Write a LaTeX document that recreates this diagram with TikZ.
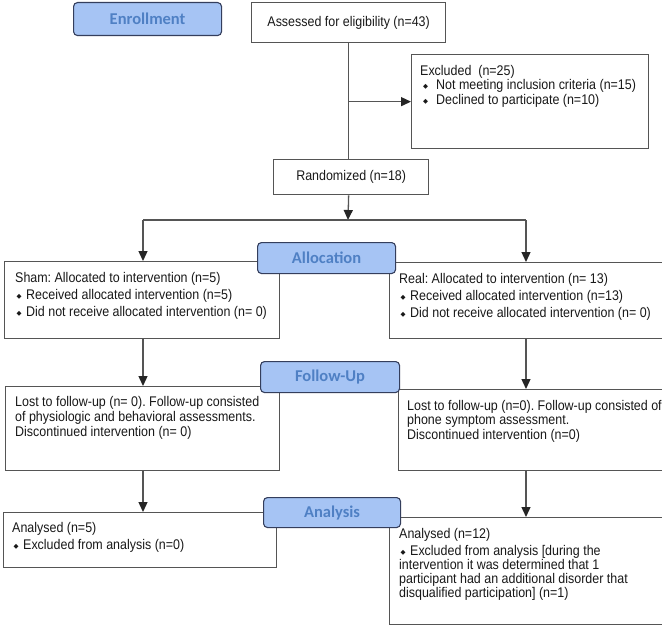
\documentclass[tikz,border=0pt]{standalone}
\usepackage{fontspec}
\setmainfont[FakeStretch=0.89]{Liberation Sans}
\newfontfamily\headf{Carlito}
\newfontfamily\symf{DejaVu Sans}
\usetikzlibrary{arrows.meta,calc}
\definecolor{hfill}{RGB}{166,196,244}
\definecolor{hdraw}{RGB}{52,62,92}
\definecolor{htext}{RGB}{79,128,196}
\definecolor{lgray}{RGB}{85,85,85}
\definecolor{tblack}{RGB}{25,25,25}
\newcommand\dmd{\raisebox{1pt}{\symf\fontsize{6.5}{6.5}\selectfont ◆}}
\newcommand\bA{\hspace*{1.5pt}\makebox[9.5pt][l]{\dmd}}
\newcommand\bB{\hspace*{3pt}\makebox[13pt][l]{\dmd}}
\begin{document}
\frenchspacing
\begin{tikzpicture}[x=1pt,y=-1pt,
 box/.style={draw=lgray,line width=1.3pt,fill=white,anchor=north west,inner sep=0pt,text=tblack,font=\frenchspacing\fontsize{14}{17}\selectfont},
 head/.style={draw=hdraw,line width=1.1pt,fill=hfill,rounded corners=4pt,anchor=north west,inner sep=0pt,text=htext,font=\headf\bfseries\fontsize{16.5}{18}\selectfont},
 txt/.style={anchor=north west,inner sep=0pt,align=left,text=tblack,font=\frenchspacing\fontsize{14}{17}\selectfont},
 arr/.style={draw=lgray,line width=1.3pt,-{Triangle[width=9pt,length=10pt,color=black!85]}},
 con/.style={draw=lgray,line width=1.3pt}]
\clip (0,0) rectangle (662,626);
\fill[white] (0,0) rectangle (662,626);
% boxes
\node[box,minimum width=194pt,minimum height=40pt] (assess) at (251,2) {Assessed for eligibility (n=43)};
\node[box,minimum width=237pt,minimum height=94pt] (excl) at (411,54) {};
\node[box,minimum width=155pt,minimum height=35pt] (rand) at (273,159) {Randomized (n=18)};
\node[box,minimum width=275pt,minimum height=77pt] (sham) at (4,261) {};
\node[box,minimum width=290pt,minimum height=76pt] (real) at (389,262) {};
\node[box,minimum width=274pt,minimum height=84pt] (fupL) at (5,386) {};
\node[box,minimum width=280pt,minimum height=81pt] (fupR) at (398,389) {};
\node[box,minimum width=273pt,minimum height=55pt] (anL) at (3,512) {};
\node[box,minimum width=290pt,minimum height=107pt] (anR) at (389,517) {};
% texts
\node[txt,font=\frenchspacing\fontsize{14}{14.5}\selectfont] (exclT) at (420,65) {Excluded\ \ (n=25)\\ \bB Not meeting inclusion criteria (n=15)\\ \bB Declined to participate (n=10)};
\node[txt] (shamT) at (15,272) {Sham: Allocated to intervention (n=5)\\ \bA Received allocated intervention (n=5)\\ \bA Did not receive allocated intervention (n= 0)};
\node[txt] (realT) at (399,273) {Real: Allocated to intervention (n= 13)\\ \bA Received allocated intervention (n=13)\\ \bA Did not receive allocated intervention (n= 0)};
\node[txt,font=\frenchspacing\fontsize{14}{15}\selectfont] (fupLT) at (15,396) {Lost to follow-up (n= 0). Follow-up consisted\\ of physiologic and behavioral assessments.\\ Discontinued intervention (n= 0)};
\node[txt,font=\frenchspacing\fontsize{14}{14.5}\selectfont] (fupRT) at (407,400) {Lost to follow-up (n=0). Follow-up consisted of\\ phone symptom assessment.\\ Discontinued intervention (n=0)};
\node[txt] (anLT) at (12,522) {Analysed (n=5)\\ \bA Excluded from analysis (n=0)};
\node[txt,font=\frenchspacing\fontsize{14}{14}\selectfont] (anRT) at (399,528) {Analysed (n=12)\\[3pt] \bA Excluded from analysis [during the\\ intervention it was determined that 1\\ participant had an additional disorder that\\ disqualified participation] (n=1)};
% connectors
\coordinate (sp) at (348,220);
\coordinate (spL) at (143,220);
\coordinate (spR) at (526,220);
\draw[con] (assess.south) -- (assess.south |- rand.north);
\draw[arr] (assess.south |- excl.west) -- (excl.west);
\draw[arr] (assess.south |- rand.south) -- (sp);
\draw[con] (spL) -- (spR);
\draw[arr] (spL) -- (spL |- sham.north);
\draw[arr] (spR) -- (spR |- real.north);
\draw[arr] (spL |- sham.south) -- (spL |- fupL.north);
\draw[arr] (spR |- real.south) -- (spR |- fupR.north);
\draw[arr] (spL |- fupL.south) -- (spL |- anL.north);
\draw[arr] (spR |- fupR.south) -- (spR |- anR.north);
% headers
\node[head,minimum width=148pt,minimum height=33pt] (enroll) at (73,2) {Enrollment};
\node[head,minimum width=138pt,minimum height=31pt] (alloc) at (257,242) {Allocation};
\node[head,minimum width=139pt,minimum height=31pt] (fup) at (260,361) {Follow-Up};
\node[head,minimum width=137pt,minimum height=30pt] (anal) at (263,497) {Analysis};
\end{tikzpicture}
\end{document}
